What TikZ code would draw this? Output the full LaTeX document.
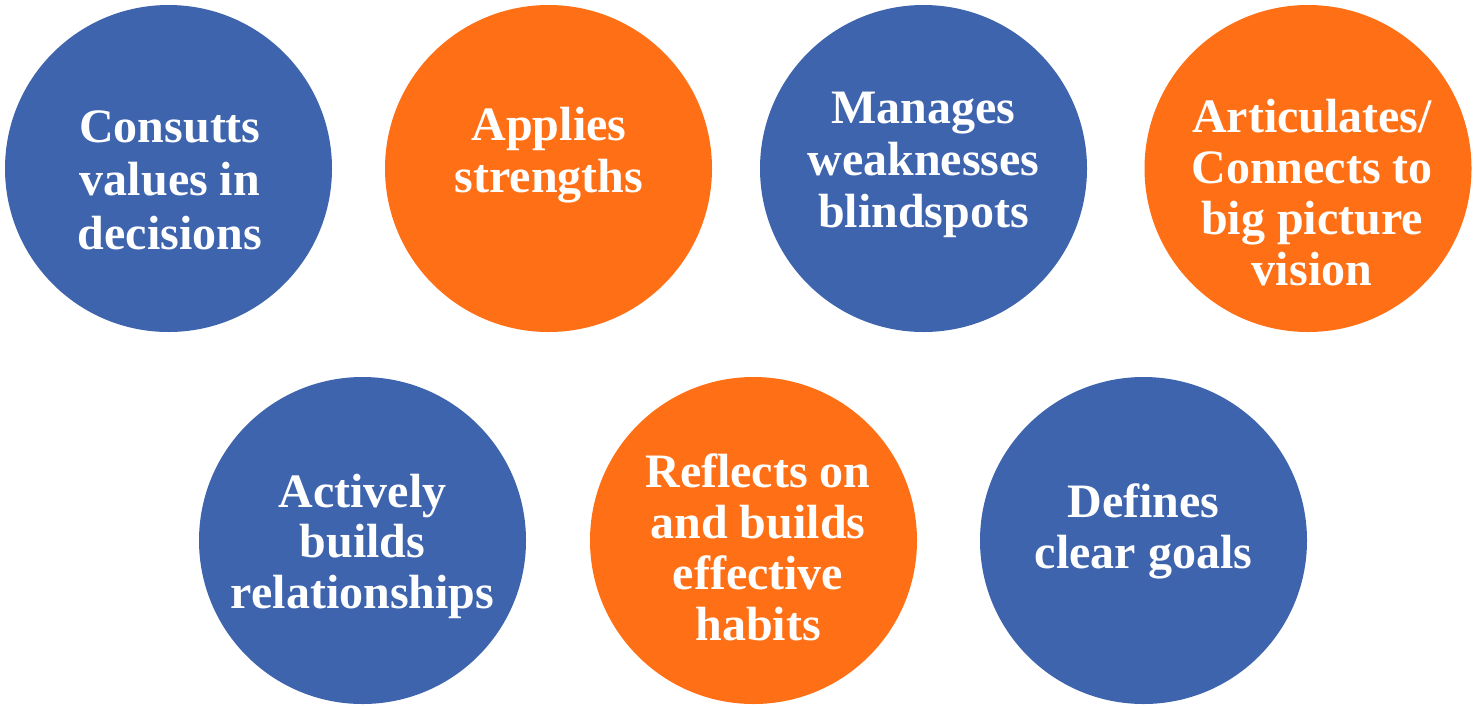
\documentclass[tikz,border=0pt]{standalone}
\usepackage{fontspec}
\setmainfont{Liberation Serif}
\definecolor{cblue}{RGB}{62,100,174}
\definecolor{corange}{RGB}{255,112,22}
\newcommand\lines[2]{\fontsize{48}{#1}\selectfont\begin{tabular}[t]{@{}c@{}}#2\end{tabular}}
\tikzset{
  bubble/.style={circle, minimum size=327pt, inner sep=0pt, draw=none},
  bluebub/.style={bubble, fill=cblue},
  orangebub/.style={bubble, fill=corange},
  lbl/.style={text=white, anchor=base, inner sep=0pt, font=\bfseries}
}
\begin{document}
\begin{tikzpicture}[x=1pt,y=-1pt]
\useasboundingbox (0,0) rectangle (1479,705);
% circles
\node[bluebub]   (c1) at (168.5,168.5) {};
\node[orangebub] (c2) at (548.5,168.5) {};
\node[bluebub]   (c3) at (923.5,168.5) {};
\node[orangebub] (c4) at (1308,168.5) {};
\node[bluebub]   (c5) at (362.5,540.5) {};
\node[orangebub] (c6) at (753.5,540.5) {};
\node[bluebub]   (c7) at (1143.5,540.5) {};
% texts (anchored at first baseline)
\node[lbl] (t1) at (170,142) {\lines{53.5}{Consutts\\values in\\decisions}};
\node[lbl] (t2) at (549,140) {\lines{52}{Applies\\strengths}};
\node[lbl] (t3) at (923.5,123) {\lines{52}{Manages\\weaknesses\\blindspots}};
\node[lbl] (t4) at (1312,132) {\lines{51}{Articulates/\\Connects to\\big picture\\vision}};
\node[lbl] (t5) at (362.5,507) {\lines{50.5}{Actively\\builds\\relationships}};
\node[lbl] (t6) at (758,487) {\lines{51}{Reflects on\\and builds\\effective\\habits}};
\node[lbl] (t7) at (1143.5,517) {\lines{51}{Defines\\clear goals}};
\end{tikzpicture}
\end{document}
